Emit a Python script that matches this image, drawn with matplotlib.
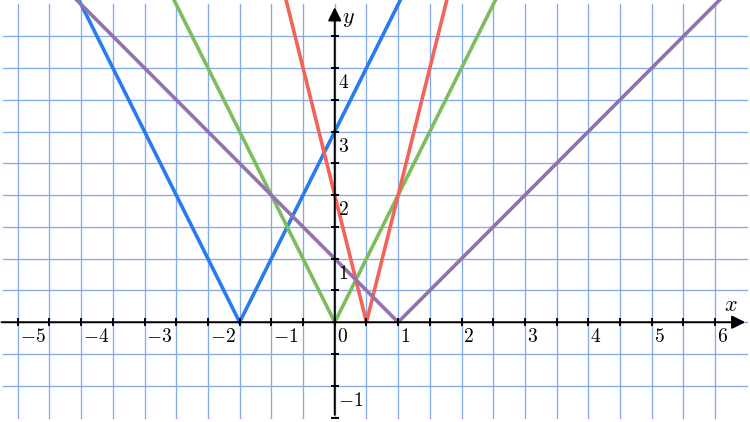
import numpy as np
import matplotlib.pyplot as plt
from matplotlib.patches import FancyArrowPatch

plt.rcParams['mathtext.fontset'] = 'cm'

# V-shaped functions y = k * |x - h|
names = ["blue", "green", "red", "purple"]
vertex_x = [-1.5, 0.0, 0.5, 1.0]
slopes = [2.0, 2.0, 4.0, 1.0]
colors = ["#2a7af0", "#7cbd5c", "#f2645a", "#9373ab"]

x_labels = [-5, -4, -3, -2, -1, 0, 1, 2, 3, 4, 5, 6]
y_labels = [-1, 1, 2, 3, 4]

fig = plt.figure(figsize=(7.5, 4.22), dpi=100)
ax = fig.add_axes([0, 0, 1, 1])
ax.set_xlim(-5.28, 6.55)
ax.set_ylim(-1.57, 5.07)
ax.axis("off")

# grid every half unit
gx0, gx1, gy0, gy1 = -5.24, 6.5, -1.5, 5.0
for gx in np.arange(-5.0, 6.01, 0.5):
    ax.plot([gx, gx], [gy0, gy1], color="#86abec", lw=0.95, zorder=1)
for gy in np.arange(-1.0, 4.51, 0.5):
    ax.plot([gx0, gx1], [gy, gy], color="#86abec", lw=0.95, zorder=1)

# axes with arrows
ax.add_patch(FancyArrowPatch((-5.3, 0), (6.52, 0), arrowstyle="-|>,head_length=8,head_width=4",
                             mutation_scale=1, color="black", lw=1.4, zorder=3))
ax.add_patch(FancyArrowPatch((0, -1.5), (0, 5.0), arrowstyle="-|>,head_length=8,head_width=4",
                             mutation_scale=1, color="black", lw=1.4, zorder=3))

# tick marks every half unit
for tx in np.arange(-5.0, 6.01, 0.5):
    ax.plot([tx, tx], [-0.05, 0.05], color="black", lw=1.4, zorder=3)
for ty in np.arange(-1.5, 4.51, 0.5):
    if ty != 0:
        ax.plot([-0.05, 0.05], [ty, ty], color="black", lw=1.4, zorder=3)

for v in x_labels:
    s = "$%d$" % v if v >= 0 else "$-%d$" % (-v)
    ax.text(v + 0.03, -0.08, s, ha="left", va="top", fontsize=14, zorder=4)
for v in y_labels:
    s = "$%d$" % v if v >= 0 else "$-%d$" % (-v)
    ax.text(0.05, v - 0.08, s, ha="left", va="top", fontsize=14, zorder=4)

ax.text(6.24, 0.12, "$x$", ha="center", va="bottom", fontsize=16)
ax.text(0.12, 4.93, "$y$", ha="left", va="top", fontsize=16)

xs = np.linspace(-6, 7, 2601)
for h, k, c in zip(vertex_x, slopes, colors):
    ax.plot(xs, k * np.abs(xs - h), color=c, lw=2.6, zorder=2, solid_joinstyle="miter")

fig.savefig("out.png", dpi=100)
